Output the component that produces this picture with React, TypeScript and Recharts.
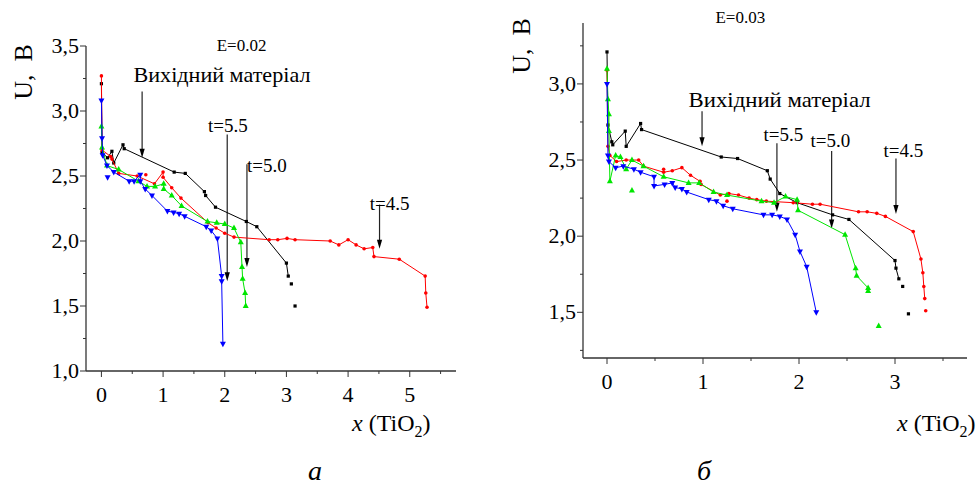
import React from "react";
import { ScatterChart, Scatter, XAxis, YAxis, ReferenceLine, ReferenceDot } from "recharts";

type P = [number, number];

// panel a (E = 0.02)
const blackA: P[] = [[0, 3.21], [0.01, 2.68], [0.1, 2.64], [0.17, 2.69], [0.2, 2.6], [0.35, 2.74], [0.37, 2.71], [1.18, 2.53], [1.36, 2.52], [1.67, 2.38], [1.69, 2.35], [1.85, 2.26], [2.35, 2.15], [2.52, 2.11], [3.0, 1.83], [3.03, 1.73]];
const blackADots: P[] = [[3.08, 1.67], [3.14, 1.5]];
const redA: P[] = [[0, 3.27], [0.01, 2.7], [0.15, 2.65], [0.17, 2.63], [0.28, 2.52], [0.58, 2.5], [0.86, 2.44], [1.0, 2.53], [1.0, 2.49], [1.14, 2.41], [1.29, 2.33], [1.73, 2.14], [1.86, 2.1], [2.0, 2.06], [2.15, 2.03], [2.72, 2.01], [2.86, 2.01], [3.01, 2.02], [3.14, 2.01], [3.71, 2.0], [3.85, 1.97], [4.0, 2.01], [4.13, 1.97], [4.26, 1.94], [4.4, 1.95], [4.42, 1.88], [4.83, 1.86], [5.25, 1.73], [5.26, 1.6], [5.28, 1.49]];
const redADots: P[] = [[0.72, 2.51]];
const greenA: P[] = [[0, 2.88], [0.01, 2.72], [0.09, 2.58], [0.28, 2.55], [0.6, 2.46], [0.74, 2.42], [0.87, 2.42], [1.01, 2.44], [1.01, 2.4], [1.14, 2.35], [1.3, 2.27], [1.72, 2.15], [1.87, 2.14], [2.0, 2.13], [2.15, 2.1], [2.26, 1.99], [2.28, 1.8], [2.29, 1.71], [2.33, 1.6], [2.34, 1.5]];
const blueA: P[] = [[0, 3.08], [0.01, 2.79], [0.02, 2.66], [0.09, 2.58], [0.2, 2.53], [0.45, 2.46], [0.53, 2.46], [0.63, 2.51], [0.63, 2.46], [0.71, 2.4], [0.82, 2.35], [1.07, 2.23], [1.17, 2.22], [1.26, 2.21], [1.35, 2.19], [1.7, 2.11], [1.78, 2.08], [1.88, 2.02], [1.95, 1.73], [1.95, 1.69], [1.97, 1.21]];
const blueADots: P[] = [[0.1, 2.49]];

// panel б (E = 0.03)
const blackB: P[] = [[0, 3.21], [0.01, 2.73], [0.05, 2.62], [0.06, 2.6], [0.19, 2.69], [0.2, 2.59], [0.35, 2.74], [0.36, 2.7], [1.19, 2.52], [1.36, 2.51], [1.67, 2.43], [1.7, 2.375], [1.8, 2.28], [1.98, 2.22], [2.35, 2.14], [2.52, 2.11], [3.0, 1.84], [3.01, 1.79], [3.04, 1.72]];
const blackBDots: P[] = [[3.08, 1.67], [3.14, 1.49]];
const redB: P[] = [[0, 3.09], [0.01, 2.59], [0.03, 2.53], [0.1, 2.49], [0.2, 2.5], [0.33, 2.5], [0.38, 2.46], [0.59, 2.42], [0.68, 2.43], [0.78, 2.45], [0.87, 2.4], [0.97, 2.36], [0.98, 2.34], [1.18, 2.27], [1.27, 2.28], [1.37, 2.27], [1.48, 2.25], [1.56, 2.24], [1.66, 2.23], [1.94, 2.22], [2.14, 2.21], [2.22, 2.21], [2.62, 2.16], [2.71, 2.16], [2.81, 2.15], [2.9, 2.13], [3.19, 2.03], [3.27, 1.85], [3.29, 1.76], [3.3, 1.67], [3.31, 1.59]];
const redBDots: P[] = [[3.32, 1.51], [0.59, 2.44], [1.25, 2.23]];
const greenB: P[] = [[0, 3.1], [0.01, 2.9], [0.02, 2.8], [0.02, 2.69], [0.03, 2.36], [0.09, 2.53], [0.14, 2.52], [0.2, 2.44], [0.26, 2.5], [0.38, 2.46], [0.59, 2.39], [0.85, 2.35], [0.96, 2.35], [1.11, 2.29], [1.25, 2.27], [1.61, 2.23], [1.74, 2.22], [1.86, 2.26], [1.98, 2.24], [1.99, 2.17], [2.48, 2.01], [2.59, 1.79], [2.6, 1.74], [2.72, 1.66], [2.72, 1.64]];
const greenBDots: P[] = [[0.26, 2.3], [2.83, 1.41]];
const blueB: P[] = [[0, 3.0], [0.01, 2.53], [0.02, 2.49], [0.09, 2.45], [0.17, 2.46], [0.28, 2.44], [0.35, 2.42], [0.49, 2.39], [0.49, 2.33], [0.6, 2.34], [0.68, 2.35], [0.71, 2.32], [0.78, 2.31], [0.83, 2.29], [1.06, 2.24], [1.14, 2.23], [1.21, 2.2], [1.31, 2.18], [1.63, 2.14], [1.72, 2.14], [1.8, 2.13], [1.875, 2.11], [1.96, 2.01], [2.01, 1.9], [2.08, 1.8], [2.18, 1.5]];

// axis ticks
const xTicksA = [0, 0.5, 1, 1.5, 2, 2.5, 3, 3.5, 4, 4.5, 5, 5.5];
const yTicksA = [1, 1.25, 1.5, 1.75, 2, 2.25, 2.5, 2.75, 3, 3.25, 3.5];
const xTicksB = [0, 0.5, 1, 1.5, 2, 2.5, 3, 3.5];
const yTicksB = [1.25, 1.5, 1.75, 2, 2.25, 2.5, 2.75, 3, 3.25];

// annotations: text baseline-left (data units), arrows from/to
const notesA = [
  { text: "E=0.02", at: [1.87, 3.46], size: 17 },
  { text: "Вихідний матеріал", at: [0.52, 3.22], size: 22, len: 177 },
  { text: "t=5.5", at: [1.73, 2.84], size: 19 },
  { text: "t=5.0", at: [2.36, 2.53], size: 19 },
  { text: "t=4.5", at: [4.35, 2.24], size: 19 },
];
const arrowsA: [P, P][] = [
  [[0.66, 3.15], [0.66, 2.64]],
  [[2.04, 2.82], [2.04, 1.69]],
  [[2.36, 2.59], [2.36, 1.8]],
  [[4.51, 2.28], [4.51, 1.94]],
];
const notesB = [
  { text: "E=0.03", at: [1.13, 3.4], size: 17 },
  { text: "Вихідний матеріал", at: [0.85, 2.85], size: 22, len: 182 },
  { text: "t=5.5", at: [1.63, 2.625], size: 19 },
  { text: "t=5.0", at: [2.12, 2.585], size: 19 },
  { text: "t=4.5", at: [2.88, 2.52], size: 19 },
];
const arrowsB: [P, P][] = [
  [[0.99, 2.82], [0.99, 2.59]],
  [[1.77, 2.61], [1.77, 2.16]],
  [[2.34, 2.56], [2.34, 2.05]],
  [[3.01, 2.51], [3.01, 2.145]],
];

const FONT = "'Liberation Serif', serif";
const AX = "#333";
const toObj = (p: P[]) => p.map(([x, y]) => ({ x, y }));
const fmt = (v: number) => v.toFixed(1).replace(".", ",");

const T = (props: any) => <text fontFamily={FONT} fill="#000" {...props} style={{ fontFamily: FONT }} />;

const XTick = (props: any) => {
  const { x, y, payload } = props;
  const v = payload.value;
  const major = Math.abs(v - Math.round(v)) < 1e-6;
  return (
    <g>
      <line x1={x} x2={x} y1={y} y2={y + (major ? 6 : 3)} stroke={AX} />
      {major && (
        <T x={x} y={y + 31} textAnchor="middle" fontSize={22}>
          {String(v)}
        </T>
      )}
    </g>
  );
};

const YTick = (props: any) => {
  const { x, y, payload } = props;
  const v = payload.value;
  const major = Math.abs(v * 2 - Math.round(v * 2)) < 1e-6;
  return (
    <g>
      <line x1={x - (major ? 6 : 3)} x2={x} y1={y} y2={y} stroke={AX} />
      {major && (
        <T x={x - 7} y={y + 7} textAnchor="end" fontSize={22}>
          {fmt(v)}
        </T>
      )}
    </g>
  );
};

const square = (c: string) => (p: any) => <rect x={p.cx - 1.6} y={p.cy - 1.6} width={3.2} height={3.2} fill={c} />;
const dot = (c: string) => (p: any) => <circle cx={p.cx} cy={p.cy} r={1.8} fill={c} />;
const triUp = (c: string) => (p: any) => <polygon points={`${p.cx},${p.cy - 3.5} ${p.cx - 3},${p.cy + 2} ${p.cx + 3},${p.cy + 2}`} fill={c} />;
const triDown = (c: string) => (p: any) => <polygon points={`${p.cx},${p.cy + 3.5} ${p.cx - 3},${p.cy - 2} ${p.cx + 3},${p.cy - 2}`} fill={c} />;

const Arrow = (p: any) => {
  const { x1, y1, x2, y2 } = p;
  return (
    <g>
      <line x1={x1} y1={y1} x2={x2} y2={y2 - 6} stroke="#222" strokeWidth={1.2} />
      <polygon points={`${x2},${y2} ${x2 - 2.6},${y2 - 9} ${x2 + 2.6},${y2 - 9}`} fill="#000" />
    </g>
  );
};

const series = (
  lines: { d: P[]; c: string; s: (c: string) => (p: any) => any }[],
  dots: { d: P[]; c: string; s: (c: string) => (p: any) => any }[]
) => [
  ...lines.map((l, i) => (
    <Scatter key={"l" + i} data={toObj(l.d)} fill={l.c} line={{ stroke: l.c, strokeWidth: 1 }} shape={l.s(l.c)} isAnimationActive={false} />
  )),
  ...dots.map((l, i) => <Scatter key={"d" + i} data={toObj(l.d)} fill={l.c} shape={l.s(l.c)} isAnimationActive={false} />),
];

const notes = (list: typeof notesA, arrows: [P, P][]) => [
  ...arrows.map((a, i) => (
    <ReferenceLine key={"a" + i} segment={[{ x: a[0][0], y: a[0][1] }, { x: a[1][0], y: a[1][1] }]} shape={Arrow} ifOverflow="visible" />
  )),
  ...list.map((n, i) => (
    <ReferenceDot
      key={"n" + i}
      x={n.at[0]}
      y={n.at[1]}
      r={0}
      ifOverflow="visible"
      shape={(p: any) => (
        <T x={p.cx} y={p.cy} fontSize={n.size} {...(n.len ? { textLength: n.len, lengthAdjust: "spacingAndGlyphs" } : {})}>
          {n.text}
        </T>
      )}
    />
  )),
];

const XLabel = ({ x }: { x: number }) => (
  <T x={x} y={431} fontSize={24}>
    <tspan fontStyle="italic">x</tspan> (TiO<tspan fontSize={16} dy={6}>2</tspan><tspan dy={-6}>)</tspan>
  </T>
);

export default function App() {
  return (
    <div style={{ position: "absolute", left: 0, top: 0, width: 980, height: 486, background: "#fff", fontFamily: FONT }}>
      <div style={{ position: "absolute", left: 0, top: 0 }}>
        <ScatterChart width={490} height={486} margin={{ top: 46, right: 34, bottom: 85, left: 36 }}>
          <XAxis dataKey="x" type="number" domain={[-0.25, 5.75]} ticks={xTicksA} interval={0} tickLine={false} tickSize={0} tickMargin={0} tick={<XTick />} axisLine={{ stroke: AX, strokeWidth: 1.3 }} height={30} />
          <YAxis dataKey="y" type="number" domain={[1, 3.5]} ticks={yTicksA} interval={0} tickLine={false} tickSize={0} tickMargin={0} tick={<YTick />} axisLine={{ stroke: AX, strokeWidth: 1.3 }} width={50} />
          {series(
            [
              { d: blackA, c: "#000000", s: square },
              { d: redA, c: "#ff0000", s: dot },
              { d: greenA, c: "#00e600", s: triUp },
              { d: blueA, c: "#0000ff", s: triDown },
            ],
            [
              { d: blackADots, c: "#000000", s: square },
              { d: redADots, c: "#ff0000", s: dot },
              { d: blueADots, c: "#0000ff", s: triDown },
            ]
          )}
          {notes(notesA, arrowsA)}
        </ScatterChart>
      </div>
      <div style={{ position: "absolute", left: 490, top: 0 }}>
        <ScatterChart width={490} height={486} margin={{ top: 23, right: 13, bottom: 98, left: 43 }}>
          <XAxis dataKey="x" type="number" domain={[-0.25, 3.75]} ticks={xTicksB} interval={0} tickLine={false} tickSize={0} tickMargin={0} tick={<XTick />} axisLine={{ stroke: AX, strokeWidth: 1.3 }} height={30} />
          <YAxis dataKey="y" type="number" domain={[1.2, 3.4]} ticks={yTicksB} interval={0} tickLine={false} tickSize={0} tickMargin={0} tick={<YTick />} axisLine={{ stroke: AX, strokeWidth: 1.3 }} width={50} />
          {series(
            [
              { d: blackB, c: "#000000", s: square },
              { d: redB, c: "#ff0000", s: dot },
              { d: greenB, c: "#00e600", s: triUp },
              { d: blueB, c: "#0000ff", s: triDown },
            ],
            [
              { d: blackBDots, c: "#000000", s: square },
              { d: redBDots, c: "#ff0000", s: dot },
              { d: greenBDots, c: "#00e600", s: triUp },
            ]
          )}
          {notes(notesB, arrowsB)}
        </ScatterChart>
      </div>
      <svg width={980} height={486} style={{ position: "absolute", left: 0, top: 0, pointerEvents: "none", fontFamily: FONT }}>
        <T transform="translate(32,72) rotate(-90)" textAnchor="middle" fontSize={26} xmlSpace="preserve">U,  B</T>
        <T transform="translate(530,46) rotate(-90)" textAnchor="middle" fontSize={26} xmlSpace="preserve">U,  B</T>
        <XLabel x={352} />
        <XLabel x={897} />
        <T x={315} y={480} fontSize={28} fontStyle="italic" textAnchor="middle">a</T>
        <T x={704} y={480} fontSize={28} fontStyle="italic" textAnchor="middle">б</T>
      </svg>
    </div>
  );
}
